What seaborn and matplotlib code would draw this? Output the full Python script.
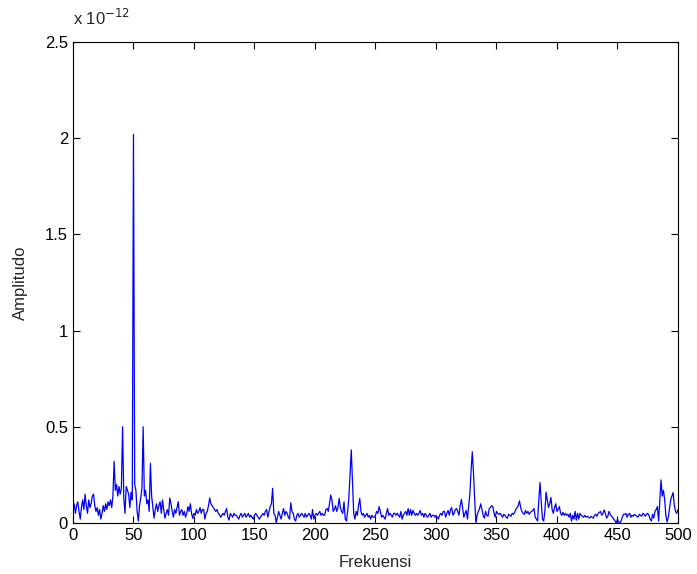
import matplotlib
matplotlib.use('Agg')
import matplotlib.pyplot as plt
import matplotlib.ticker as mticker
import seaborn as sns
import numpy as np
import pandas as pd

# amplitude spectrum, 1 Hz steps, values in units of 1e-12
amp_000_099 = [
    0.08, 0.10, 0.05, 0.09, 0.11, 0.06, 0.02, 0.08, 0.12, 0.07,
    0.15, 0.09, 0.05, 0.12, 0.08, 0.10, 0.14, 0.15, 0.09, 0.06,
    0.08, 0.04, 0.07, 0.02, 0.05, 0.09, 0.06, 0.10, 0.07, 0.11,
    0.09, 0.12, 0.08, 0.14, 0.32, 0.17, 0.20, 0.14, 0.19, 0.15,
    0.18, 0.50, 0.13, 0.05, 0.19, 0.17, 0.15, 0.08, 0.16, 0.12,
    2.02, 0.20, 0.17, 0.06, 0.01, 0.09, 0.13, 0.18, 0.50, 0.14,
    0.17, 0.10, 0.12, 0.06, 0.31, 0.14, 0.08, 0.025, 0.07, 0.10,
    0.06, 0.09, 0.11, 0.05, 0.12, 0.07, 0.025, 0.05, 0.07, 0.04,
    0.13, 0.10, 0.06, 0.03, 0.07, 0.05, 0.08, 0.11, 0.04, 0.06,
    0.07, 0.04, 0.06, 0.03, 0.05, 0.085, 0.06, 0.10, 0.05, 0.024,
]
amp_100_199 = [
    0.05, 0.04, 0.07, 0.05, 0.06, 0.08, 0.05, 0.07, 0.07, 0.02,
    0.05, 0.06, 0.09, 0.13, 0.10, 0.09, 0.08, 0.07, 0.06, 0.07,
    0.05, 0.045, 0.03, 0.04, 0.05, 0.04, 0.06, 0.075, 0.03, 0.015,
    0.05, 0.04, 0.03, 0.05, 0.04, 0.04, 0.03, 0.02, 0.04, 0.05,
    0.03, 0.04, 0.05, 0.03, 0.04, 0.05, 0.03, 0.04, 0.03, 0.02,
    0.04, 0.05, 0.04, 0.03, 0.02, 0.03, 0.04, 0.05, 0.04, 0.06,
    0.07, 0.03, 0.06, 0.085, 0.10, 0.18, 0.05, 0.04, 0.0, 0.03,
    0.06, 0.04, 0.02, 0.05, 0.075, 0.04, 0.06, 0.05, 0.03, 0.02,
    0.105, 0.06, 0.05, 0.02, 0.01, 0.04, 0.05, 0.03, 0.04, 0.05,
    0.04, 0.03, 0.05, 0.03, 0.04, 0.05, 0.04, 0.02, 0.07, 0.02,
]
amp_200_299 = [
    0.04, 0.05, 0.04, 0.05, 0.06, 0.04, 0.05, 0.04, 0.04, 0.07,
    0.075, 0.06, 0.10, 0.145, 0.12, 0.06, 0.07, 0.09, 0.06, 0.08,
    0.128, 0.08, 0.06, 0.05, 0.11, 0.02, 0.01, 0.06, 0.13, 0.26,
    0.38, 0.22, 0.05, 0.02, 0.06, 0.04, 0.09, 0.128, 0.06, 0.04,
    0.05, 0.03, 0.04, 0.05, 0.03, 0.04, 0.02, 0.04, 0.03, 0.03,
    0.04, 0.06, 0.05, 0.085, 0.06, 0.03, 0.04, 0.03, 0.02, 0.05,
    0.075, 0.04, 0.05, 0.04, 0.03, 0.05, 0.05, 0.04, 0.05, 0.04,
    0.03, 0.06, 0.02, 0.04, 0.05, 0.06, 0.04, 0.075, 0.04, 0.07,
    0.04, 0.065, 0.05, 0.04, 0.05, 0.04, 0.05, 0.065, 0.04, 0.05,
    0.03, 0.05, 0.04, 0.03, 0.04, 0.05, 0.03, 0.04, 0.04, 0.03,
]
amp_300_399 = [
    0.04, 0.03, 0.02, 0.04, 0.05, 0.04, 0.06, 0.06, 0.03, 0.05,
    0.065, 0.04, 0.07, 0.08, 0.04, 0.05, 0.07, 0.075, 0.06, 0.04,
    0.09, 0.122, 0.08, 0.03, 0.05, 0.065, 0.02, 0.085, 0.15, 0.27,
    0.37, 0.26, 0.12, 0.0, 0.04, 0.06, 0.075, 0.10, 0.07, 0.04,
    0.025, 0.06, 0.04, 0.035, 0.075, 0.08, 0.09, 0.085, 0.05, 0.03,
    0.06, 0.05, 0.045, 0.05, 0.04, 0.03, 0.045, 0.04, 0.03, 0.025,
    0.045, 0.04, 0.035, 0.05, 0.045, 0.055, 0.07, 0.08, 0.09, 0.115,
    0.08, 0.06, 0.05, 0.045, 0.065, 0.05, 0.06, 0.045, 0.055, 0.06,
    0.065, 0.075, 0.03, 0.02, 0.01, 0.12, 0.21, 0.11, 0.02, 0.01,
    0.06, 0.16, 0.12, 0.08, 0.10, 0.133, 0.07, 0.05, 0.08, 0.10,
]
amp_400_500 = [
    0.06, 0.07, 0.085, 0.05, 0.04, 0.055, 0.04, 0.05, 0.04, 0.045,
    0.03, 0.05, 0.01, 0.04, 0.02, 0.06, 0.015, 0.05, 0.02, 0.05,
    0.04, 0.035, 0.03, 0.04, 0.03, 0.035, 0.03, 0.025, 0.035, 0.03,
    0.025, 0.04, 0.045, 0.035, 0.05, 0.055, 0.06, 0.04, 0.05, 0.068,
    0.05, 0.025, 0.035, 0.06, 0.045, 0.035, 0.03, 0.02, 0.01, 0.0,
    0.02, 0.005, 0.0, 0.01, 0.03, 0.045, 0.045, 0.05, 0.03, 0.045,
    0.05, 0.03, 0.04, 0.035, 0.045, 0.04, 0.035, 0.03, 0.045, 0.04,
    0.035, 0.05, 0.045, 0.035, 0.045, 0.05, 0.04, 0.02, 0.01, 0.045,
    0.025, 0.06, 0.07, 0.085, 0.01, 0.12, 0.224, 0.14, 0.17, 0.12,
    0.04, 0.005, 0.03, 0.075, 0.12, 0.14, 0.158, 0.09, 0.06, 0.05,
    0.07,
]

amplitude = amp_000_099 + amp_100_199 + amp_200_299 + amp_300_399 + amp_400_500
freq = np.arange(len(amplitude))
df = pd.DataFrame({'Frekuensi': freq, 'Amplitudo': amplitude})

sns.set_style('ticks')
plt.rcParams['font.family'] = ['Liberation Sans', 'DejaVu Sans']

fig = plt.figure(figsize=(6.97, 5.74), dpi=100)
ax = fig.add_axes([0.1047, 0.0889, 0.868, 0.8379])
sns.lineplot(data=df, x='Frekuensi', y='Amplitudo', color='#0000ff', linewidth=0.9, ax=ax)

ax.set_xlim(0, 500)
ax.set_ylim(0, 2.5)
ax.set_xticks(np.arange(0, 501, 50))
ax.set_yticks(np.arange(0, 2.51, 0.5))
ax.yaxis.set_major_formatter(mticker.FuncFormatter(lambda v, p: '%g' % v))
ax.tick_params(direction='in', length=5, width=0.8, labelsize=12, colors='black',
               top=True, right=True)
for s in ax.spines.values():
    s.set_visible(True)
    s.set_linewidth(0.8)
    s.set_color('black')
ax.set_xlabel('Frekuensi', fontsize=12, labelpad=9)
ax.set_ylabel('Amplitudo', fontsize=12, labelpad=12)
ax.text(0.0, 1.03, r'x 10$^{-12}$', transform=ax.transAxes, fontsize=12,
        ha='left', va='bottom')

fig.savefig('out.png', dpi=100, facecolor='white')
